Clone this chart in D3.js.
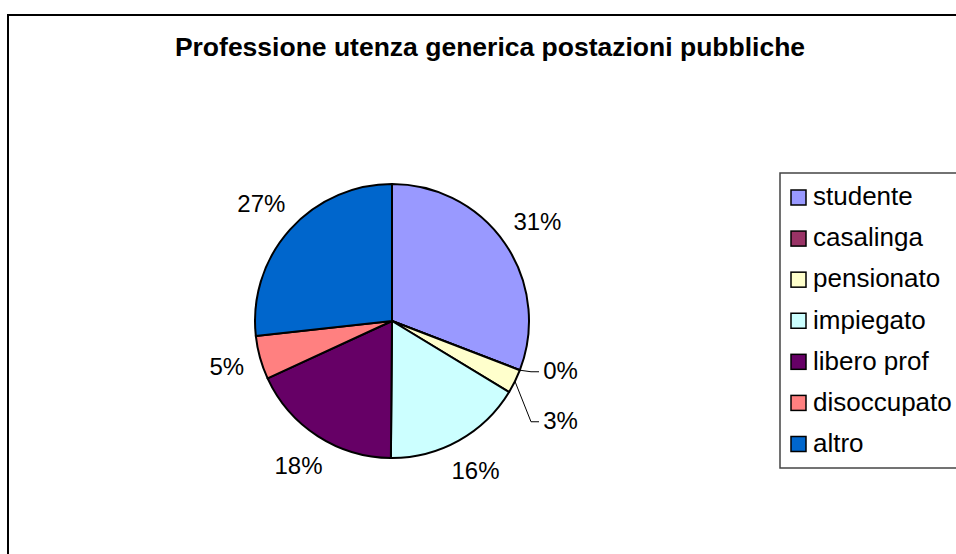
<!DOCTYPE html>
<html>
<head>
<meta charset="utf-8">
<script src="https://cdnjs.cloudflare.com/ajax/libs/d3/7.8.5/d3.min.js"></script>
<style>
  body { margin: 0; background: #fff; }
  text { font-family: "Liberation Sans", Arial, sans-serif; }
</style>
</head>
<body>
<script>
// Chart data
var categories = ["studente", "casalinga", "pensionato", "impiegato", "libero prof", "disoccupato", "altro"];
var counts = [120, 0, 11, 64, 70, 20, 104];
var colors = ["#9999FF", "#993366", "#FFFFCC", "#CCFFFF", "#660066", "#FF8080", "#0066CC"];
var title = "Professione utenza generica postazioni pubbliche";

// Define SVG area dimensions
var svgWidth = 956;
var svgHeight = 554;

// pie position
var cx = 392;
var cy = 321;
var radius = 137;

var svg = d3.select("body")
  .append("svg")
  .attr("width", svgWidth)
  .attr("height", svgHeight);

// chart border (runs off the right and bottom of the picture)
svg.append("rect")
  .attr("x", 8)
  .attr("y", 15)
  .attr("width", 980)
  .attr("height", 600)
  .attr("fill", "white")
  .attr("stroke", "black")
  .attr("stroke-width", 2);

// title
svg.append("text")
  .attr("x", 490)
  .attr("y", 56)
  .attr("text-anchor", "middle")
  .attr("font-size", "26.5px")
  .attr("font-weight", "bold")
  .attr("fill", "black")
  .text(title);

var data = categories.map(function (c, i) {
  return { name: c, value: counts[i], color: colors[i] };
});
var total = d3.sum(counts);

var pie = d3.pie()
  .sort(null)
  .value(d => d.value);

var arc = d3.arc()
  .innerRadius(0)
  .outerRadius(radius);

var arcs = pie(data);

var pieGroup = svg.append("g")
  .attr("transform", `translate(${cx}, ${cy})`);

pieGroup.selectAll("path")
  .data(arcs)
  .enter()
  .append("path")
  .attr("d", arc)
  .attr("fill", d => d.data.color)
  .attr("stroke", "black")
  .attr("stroke-width", 2)
  .attr("stroke-linejoin", "round");

// label positions: box pushed out along the middle angle
var labelFont = 24;
var gap = 151;
var labels = arcs.map(function (d) {
  var mid = (d.startAngle + d.endAngle) / 2;
  var txt = Math.round(d.data.value / total * 100) + "%";
  var w = txt.length === 2 ? 37 : 48;
  var h = 20;
  var s = Math.sin(mid), c = Math.cos(mid);
  var r = gap + Math.abs(s) * w / 2 + Math.abs(c) * h / 2;
  return { text: txt, mid: mid, x: r * s, y: -r * c, y0: -r * c, w: w, moved: false };
});

// pull apart labels that collide on the right side
var right = labels.filter(l => l.x > 0).sort((a, b) => a.y0 - b.y0);
for (var i = 1; i < right.length; i++) {
  var overlap = 50 - (right[i].y0 - right[i - 1].y0);
  if (overlap > 0) {
    right[i - 1].y -= overlap / 3;
    right[i].y += overlap * 2 / 3;
    right[i - 1].moved = right[i].moved = true;
  }
}
labels.forEach(function (l) {
  if (l.moved) l.x = radius + 13 + l.w / 2;
});

// leader lines for the moved labels
pieGroup.selectAll(".leader")
  .data(labels.filter(l => l.moved))
  .enter()
  .append("polyline")
  .attr("points", function (l) {
    var ex = radius * Math.sin(l.mid), ey = -radius * Math.cos(l.mid);
    var left = l.x - l.w / 2;
    return [[ex, ey], [left - 11, l.y + 1], [left - 3, l.y + 1]].join(" ");
  })
  .attr("fill", "none")
  .attr("stroke", "black")
  .attr("stroke-width", 1);

pieGroup.selectAll(".lbl")
  .data(labels)
  .enter()
  .append("text")
  .attr("x", l => l.x)
  .attr("y", l => l.y)
  .attr("dy", "0.36em")
  .attr("text-anchor", "middle")
  .attr("font-size", labelFont + "px")
  .attr("fill", "black")
  .text(l => l.text);

// legend
var legend = svg.append("g")
  .attr("transform", "translate(780, 173)");

legend.append("rect")
  .attr("x", 0)
  .attr("y", 0)
  .attr("width", 200)
  .attr("height", 295)
  .attr("fill", "white")
  .attr("stroke", "#444")
  .attr("stroke-width", 1.5);

var rowY = d3.scalePoint()
  .domain(categories)
  .range([24.5, 271]);

var items = legend.selectAll(".item")
  .data(data)
  .enter()
  .append("g")
  .attr("transform", d => `translate(0, ${rowY(d.name)})`);

items.append("rect")
  .attr("x", 11)
  .attr("y", -7.5)
  .attr("width", 15)
  .attr("height", 15)
  .attr("fill", d => d.color)
  .attr("stroke", "black")
  .attr("stroke-width", 1.5);

items.append("text")
  .attr("x", 33)
  .attr("y", 0)
  .attr("dy", "0.3em")
  .attr("font-size", "26px")
  .attr("fill", "black")
  .text(d => d.name);
</script>
</body>
</html>
